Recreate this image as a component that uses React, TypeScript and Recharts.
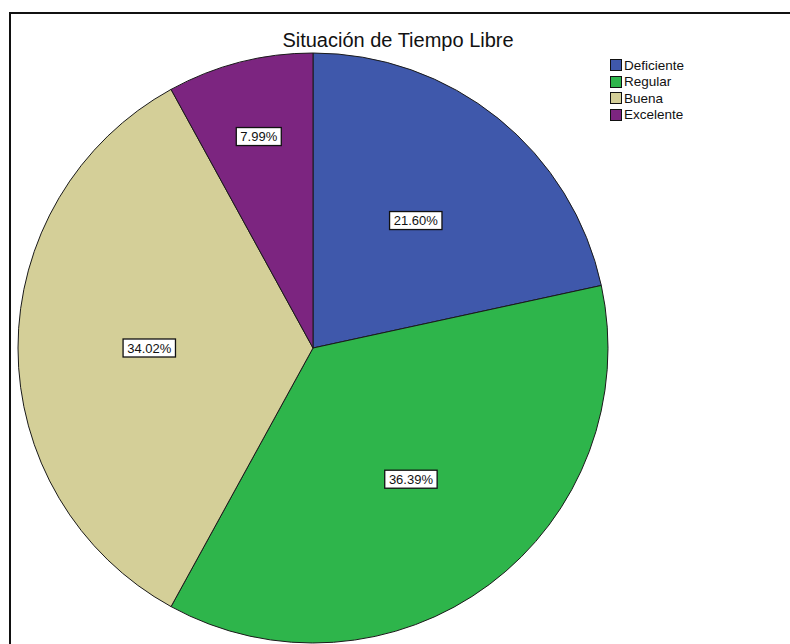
import { Cell, Legend, Pie, PieChart } from 'recharts';

const categories = ['Deficiente', 'Regular', 'Buena', 'Excelente'];
const percents = [21.6, 36.39, 34.02, 7.99];
const colors = ['#3F58AB', '#2EB54B', '#D4CF98', '#7C2580'];

const data = categories.map((name, i) => ({ name, value: percents[i] }));

const RAD = Math.PI / 180;
const FONT = "'Liberation Sans', Arial, sans-serif";

function renderLabel(props: any) {
    const { cx, cy, midAngle, outerRadius, percent, value } = props;
    // small slices get their label pushed further out, like SPSS does
    const r = outerRadius * (percent < 0.1 ? 0.74 : 0.555);
    const x = cx + r * Math.cos(-midAngle * RAD);
    const y = cy + r * Math.sin(-midAngle * RAD);
    const text = `${Number(value).toFixed(2)}%`;
    const w = text.length * 7.4 + 8;
    return (
        <g>
            <rect x={x - w / 2} y={y - 9} width={w} height={18} fill="#fff" stroke="#111" strokeWidth={1.3} />
            <text x={x} y={y + 4.5} textAnchor="middle" fontSize={13} fontFamily={FONT} fill="#111">
                {text}
            </text>
        </g>
    );
}

function LegendBox() {
    return (
        <div style={{ fontFamily: FONT, fontSize: 13.5, color: '#111' }}>
            {categories.map((c, i) => (
                <div key={c} style={{ display: 'flex', alignItems: 'center', height: 16.5 }}>
                    <span
                        style={{
                            display: 'inline-block',
                            width: 10,
                            height: 10,
                            background: colors[i],
                            border: '1px solid #111',
                            marginRight: 2,
                        }}
                    />
                    {c}
                </div>
            ))}
        </div>
    );
}

export default function App() {
    return (
        <div style={{ position: 'absolute', left: 0, top: 0, width: 790, height: 644, background: '#fff', overflow: 'hidden' }}>
            <div
                style={{
                    position: 'absolute',
                    left: 9,
                    top: 12,
                    width: 800,
                    height: 700,
                    borderLeft: '2px solid #111',
                    borderTop: '2px solid #111',
                }}
            />
            <div
                style={{
                    position: 'absolute',
                    left: 198,
                    width: 400,
                    top: 29,
                    textAlign: 'center',
                    fontFamily: FONT,
                    fontSize: 20,
                    color: '#111',
                }}
            >
                Situación de Tiempo Libre
            </div>
            <div style={{ position: 'absolute', left: 0, top: 0 }}>
                <PieChart width={790} height={644} margin={{ top: 0, right: 0, bottom: 0, left: 0 }}>
                    <Pie
                        data={data}
                        dataKey="value"
                        nameKey="name"
                        cx={313}
                        cy={348}
                        outerRadius={295}
                        startAngle={90}
                        endAngle={-270}
                        stroke="#1a1a1a"
                        strokeWidth={1}
                        label={renderLabel}
                        labelLine={false}
                        isAnimationActive={false}
                    >
                        {data.map((d, i) => (
                            <Cell key={d.name} fill={colors[i]} />
                        ))}
                    </Pie>
                    <Legend
                        content={() => <LegendBox />}
                        wrapperStyle={{ position: 'absolute', left: 610, top: 57, width: 120 }}
                    />
                </PieChart>
            </div>
        </div>
    );
}
